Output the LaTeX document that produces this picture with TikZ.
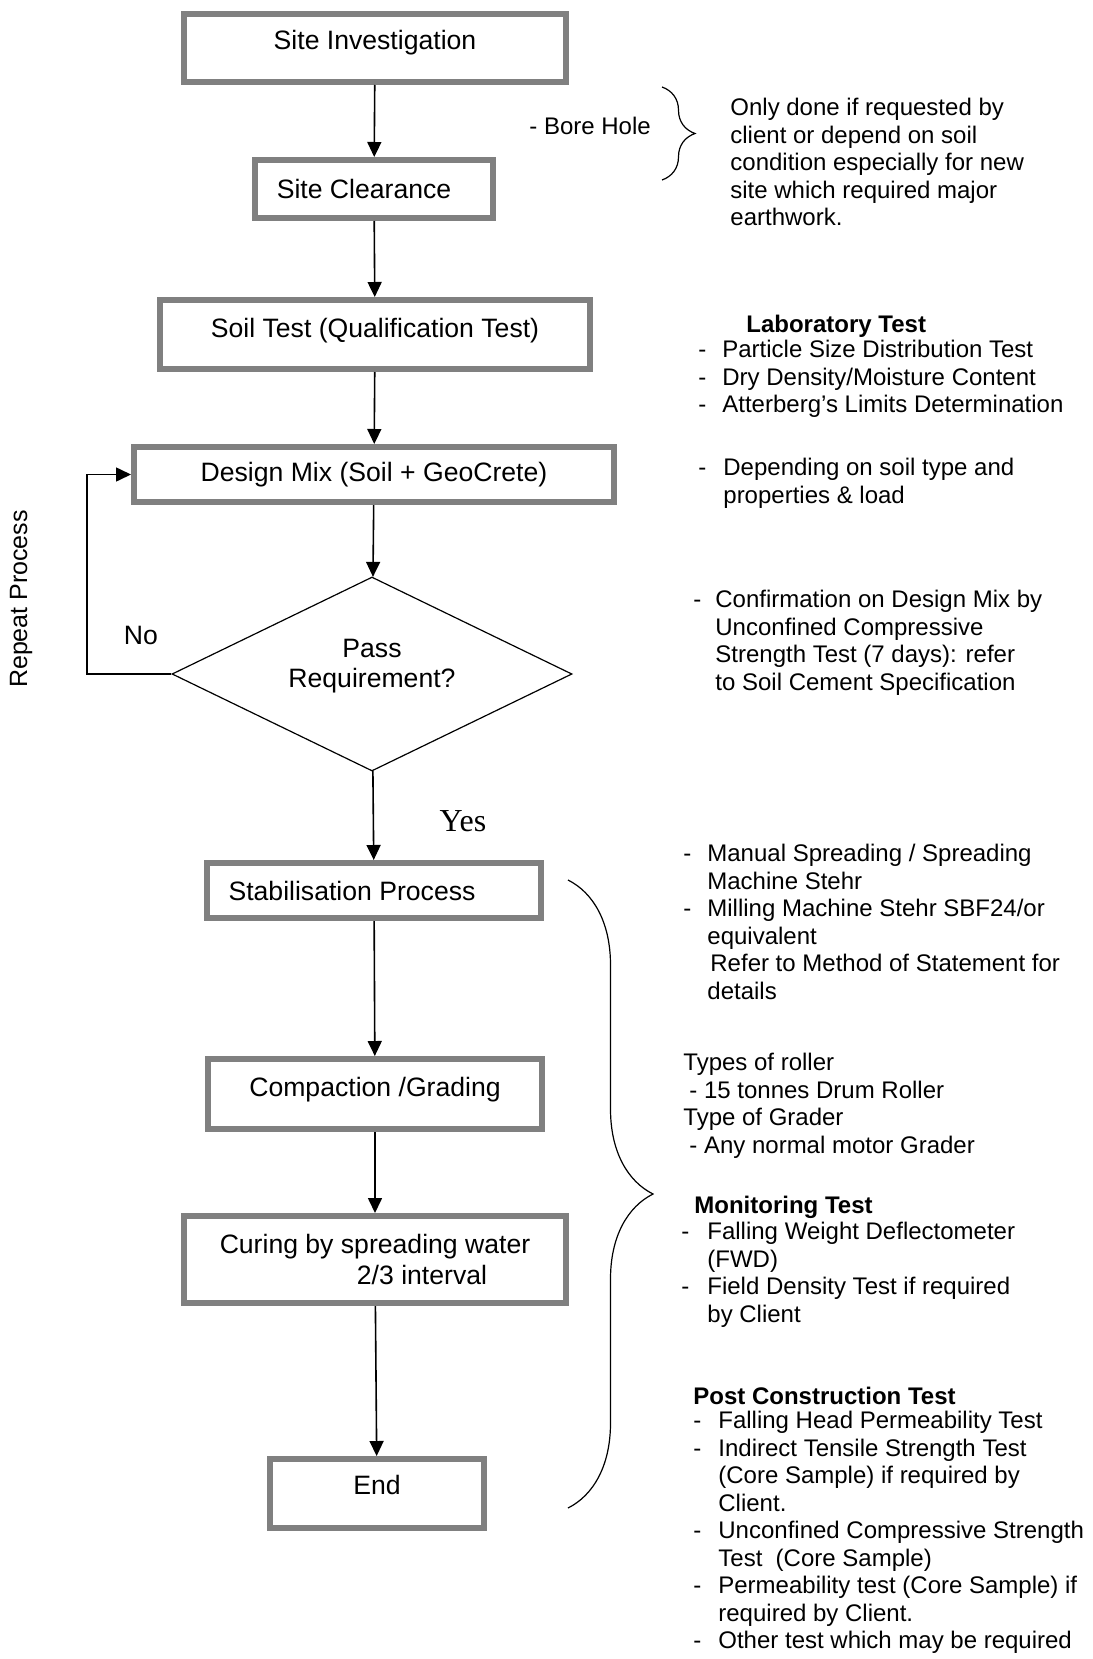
\documentclass[tikz,border=0pt]{standalone}
\usepackage{fontspec}
\setmainfont{Liberation Sans}
\newfontfamily\yesfont{Liberation Serif}
\usetikzlibrary{arrows.meta,shapes.geometric,decorations.pathreplacing}
\newcommand{\itemdash}[1][12pt]{\makebox[#1][l]{-}}

\begin{document}
\begin{tikzpicture}[x=0.5pt,y=-0.5pt,
  >={Triangle[width=7pt,length=7.5pt]},
  stepbox/.style={shape=rectangle,draw=gray,line width=3pt,inner sep=0pt,
    align=center,font=\fontsize{13.3}{15.3}\selectfont},
  note/.style={anchor=north west,align=left,inner sep=0pt,
    font=\fontsize{12}{13.75}\selectfont,execute at begin node=\strut}]
\useasboundingbox (0,0) rectangle (1092,1659);

% flow
\node[stepbox,minimum width=191pt,minimum height=34pt,text height=9.5pt,text depth=7.8pt] (si) at (375,48) {Site Investigation};
\node[stepbox,minimum width=119pt,minimum height=29pt] (sc) at (374,189) {\hspace*{-10pt}Site Clearance};
\node[stepbox,minimum width=215pt,minimum height=34.5pt,text height=9.5pt,text depth=6.5pt] (st) at (375,334.5) {Soil Test (Qualification Test)};
\node[stepbox,minimum width=240pt,minimum height=27.5pt] (dm) at (374,474.5) {Design Mix (Soil + GeoCrete)};
\node[shape=diamond,draw=black,line width=0.6pt,inner sep=0pt,shape aspect=2.5,minimum width=200pt,minimum height=97pt,
  align=center,font=\fontsize{13.3}{15}\selectfont] (pass) at (372,674) {Pass\\Requirement?\rule[-10.8pt]{0pt}{0pt}};
\node[stepbox,minimum width=167pt,minimum height=27.5pt] (stab) at (374,890.5) {\hspace*{-22pt}Stabilisation Process};
\node[stepbox,minimum width=167pt,minimum height=35pt,text height=9.5pt,text depth=7.4pt] (comp) at (375,1094) {Compaction /Grading};
\node[stepbox,minimum width=191pt,minimum height=43.5pt] (cure) at (375,1259.5) {Curing by spreading water\\\hspace*{47pt}2/3 interval};
\node[stepbox,minimum width=107pt,minimum height=34.5pt,text height=9.5pt,text depth=9pt] (end) at (377,1493.5) {End};

\path [->,line width=0.8pt] (si) edge (sc);
\path [->,line width=0.8pt] (sc) edge (st);
\path [->,line width=0.8pt] (st) edge (dm);
\path [->,line width=0.8pt] (dm) edge (pass);
\path [->,line width=0.8pt] (pass) edge (stab);
\path [->,line width=0.8pt] (stab) edge (comp);
\path [->,line width=0.8pt] (comp) edge (cure);
\path [->,line width=0.8pt] (cure) edge (end);
\draw [->,line width=0.8pt] (pass.west) -- (87,674) |- (dm.west);

\node[font=\fontsize{13.3}{15}\selectfont] (no) at (141,635) {No};
\node[font=\yesfont\fontsize{16}{18}\selectfont] (yes) at (463,821) {Yes};
\node[rotate=90,font=\fontsize{12.5}{14}\selectfont] (rep) at (21,599) {Repeat Process};

% notes
\node[note] (bore) at (529,115) {- Bore Hole};
\draw [line width=0.6pt,decorate,decoration={brace,amplitude=16.5pt}] (662,87) -- (662,180);
\node[note] (only) at (730,97.75) {Only done if requested by\\client or depend on soil\\condition especially for new\\site which required major\\earthwork.};

\node[note,font=\bfseries\fontsize{12}{13.75}\selectfont] (labhead) at (746,312.75) {Laboratory Test};
\begin{scope}
\clip (0,0) rectangle (1092,417);
\node[note] (lab) at (698,339.75) {\itemdash Particle Size Distribution Test\\\itemdash Dry Density/Moisture Content\\\itemdash Atterberg's Limits Determination};
\end{scope}
\node[note] (dep) at (698,457.75) {\itemdash[12.5pt]Depending on soil type and\\\hspace*{12.5pt}properties \& load};
\node[note] (conf) at (693,589.75) {\itemdash[11pt]Confirmation on Design Mix by\\\hspace*{11pt}Unconfined Compressive\\\hspace*{11pt}Strength Test (7 days): refer\\\hspace*{11pt}to Soil Cement Specification};

\node[note] (spread) at (683,843.75) {\itemdash[12pt]Manual Spreading / Spreading\\\hspace*{12pt}Machine Stehr\\\itemdash[12pt]Milling Machine Stehr SBF24/or\\\hspace*{12pt}equivalent\\\hspace*{13.5pt}Refer to Method of Statement for\\\hspace*{12pt}details};
\node[note] (roll) at (683,1052.75) {Types of roller\\\hspace*{3pt}- 15 tonnes Drum Roller\\Type of Grader\\\hspace*{3pt}- Any normal motor Grader};
\draw [line width=0.6pt,decorate,decoration={brace,amplitude=42.5pt}] (568,880) -- (568,1508);

\node[note,font=\bfseries\fontsize{12}{13.75}\selectfont] (monhead) at (694,1193.75) {Monitoring Test};
\node[note] (mon) at (681,1221.75) {\itemdash[13pt]Falling Weight Deflectometer\\\hspace*{13pt}(FWD)\\\itemdash[13pt]Field Density Test if required\\\hspace*{13pt}by Client};

\node[note,font=\bfseries\fontsize{12}{13.75}\selectfont] (posthead) at (693,1384.75) {Post Construction Test};
\node[note] (post) at (693,1410.75) {\itemdash[12.5pt]Falling Head Permeability Test\\\itemdash[12.5pt]Indirect Tensile Strength Test\\\hspace*{12.5pt}(Core Sample) if required by\\\hspace*{12.5pt}Client.\\\itemdash[12.5pt]Unconfined Compressive Strength\\\hspace*{12.5pt}Test~~(Core Sample)\\\itemdash[12.5pt]Permeability test (Core Sample) if\\\hspace*{12.5pt}required by Client.\\\itemdash[12.5pt]Other test which may be required};
\end{tikzpicture}
\end{document}
